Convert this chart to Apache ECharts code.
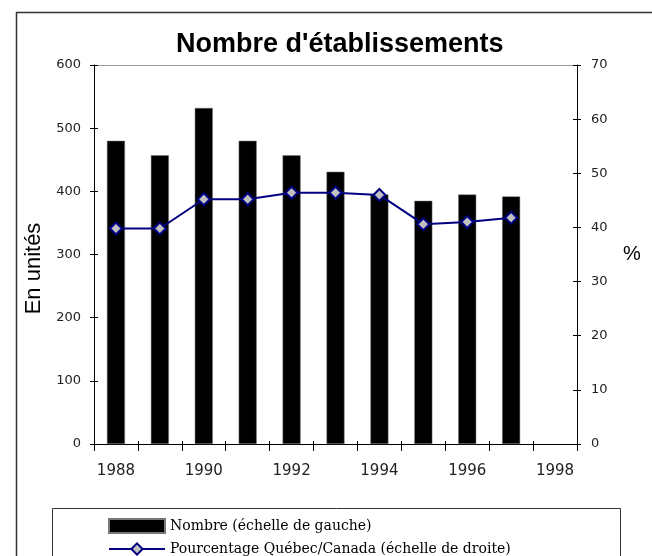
<!DOCTYPE html>
<html>
<head>
<meta charset="utf-8">
<script src="https://cdn.jsdelivr.net/npm/echarts@6/dist/echarts.min.js"></script>
<style>
html,body{margin:0;padding:0;background:#fff;}
#chart{width:652px;height:556px;}
</style>
</head>
<body>
<div id="chart"></div>
<script>
// data
var years = ['1988','1989','1990','1991','1992','1993','1994','1995','1996','1997','1998'];
var nombre = [480, 457, 532, 480, 457, 431, 395, 385, 395, 392, null];
var pourcentage = [39.8, 39.8, 45.2, 45.2, 46.4, 46.4, 46.0, 40.6, 41.0, 41.8, null];
var nomBarres = 'Nombre (échelle de gauche)';
var nomLigne = 'Pourcentage Québec/Canada (échelle de droite)';

var myChart = echarts.init(document.getElementById('chart'));
var tickFont = {color: '#222', fontSize: 13, fontFamily: 'DejaVu Sans'};
var legendFont = {fontFamily: 'DejaVu Serif', fontSize: 14, color: '#000'};

// axes with only inner ticks, so ticks cross the axis lines like the original
function innerY(pos, max, step) {
    return {
        type: 'value', min: 0, max: max, interval: step, position: pos,
        axisLine: {show: false},
        axisTick: {show: true, inside: true, length: 4, lineStyle: {color: '#000'}},
        axisLabel: {show: false},
        splitLine: {show: false}
    };
}

var option = {
    animation: false,
    backgroundColor: '#fff',
    title: {
        text: "Nombre d'établissements",
        left: 171,
        top: 26,
        textStyle: {fontFamily: 'Liberation Sans', fontWeight: 'bold', fontSize: 27, color: '#000'}
    },
    graphic: [
        {type: 'rect', left: 14, top: 10, shape: {width: 700, height: 600}, style: {fill: 'none', stroke: '#333', lineWidth: 1.5}, z: -1},
        {type: 'rect', left: 50, top: 506, shape: {width: 568, height: 60}, style: {fill: 'none', stroke: '#333', lineWidth: 1}, z: -1}
    ],
    legend: [{
        left: 103, top: 513,
        itemWidth: 56, itemHeight: 14,
        textStyle: legendFont,
        data: [{name: nomBarres, icon: 'rect'}]
    }, {
        left: 103, top: 537,
        itemWidth: 56, itemHeight: 14,
        textStyle: legendFont,
        data: [{name: nomLigne}]
    }],
    grid: {left: 94, right: 75, top: 65, bottom: 112},
    xAxis: [{
        type: 'category',
        data: years,
        axisLine: {lineStyle: {color: '#000', width: 1}},
        axisTick: {show: true, interval: 0, length: 7, lineStyle: {color: '#000'}},
        axisLabel: Object.assign({}, tickFont, {interval: 1, margin: 20, fontSize: 15})
    }, {
        type: 'category',
        data: years,
        position: 'top',
        axisLine: {onZero: false, lineStyle: {color: '#999', width: 1}},
        axisTick: {show: false},
        axisLabel: {show: false}
    }, {
        type: 'category',
        data: years,
        position: 'bottom',
        axisLine: {show: false},
        axisTick: {show: true, inside: true, interval: 0, length: 3, lineStyle: {color: '#000'}},
        axisLabel: {show: false}
    }],
    yAxis: [{
        type: 'value',
        min: 0, max: 600, interval: 100,
        name: 'En unités',
        nameLocation: 'middle',
        nameGap: 42,
        nameTextStyle: {fontFamily: 'Liberation Sans', fontSize: 22, color: '#000', padding: [0, 28, 0, 0]},
        axisLine: {show: true, onZero: false, lineStyle: {color: '#000'}},
        axisTick: {show: true, length: 4, lineStyle: {color: '#000'}},
        splitLine: {show: false},
        axisLabel: Object.assign({margin: 13}, tickFont)
    }, {
        type: 'value',
        min: 0, max: 70, interval: 10,
        position: 'right',
        name: '%',
        nameLocation: 'middle',
        nameRotate: 0,
        nameGap: 46,
        nameTextStyle: {fontFamily: 'Liberation Sans', fontSize: 20, color: '#000'},
        axisLine: {show: true, onZero: false, lineStyle: {color: '#000'}},
        axisTick: {show: true, length: 4, lineStyle: {color: '#000'}},
        splitLine: {show: false},
        axisLabel: Object.assign({margin: 14}, tickFont)
    }, innerY('left', 600, 100), innerY('right', 70, 10)],
    series: [{
        name: nomBarres,
        type: 'bar',
        yAxisIndex: 0,
        barWidth: 18,
        itemStyle: {color: '#000', borderColor: '#777', borderWidth: 0.5},
        data: nombre
    }, {
        name: nomLigne,
        type: 'line',
        yAxisIndex: 1,
        symbol: 'diamond',
        symbolSize: 12,
        lineStyle: {color: '#000080', width: 2},
        itemStyle: {color: '#c0c0c0', borderColor: '#000080', borderWidth: 2},
        data: pourcentage
    }]
};

myChart.setOption(option);
</script>
</body>
</html>
